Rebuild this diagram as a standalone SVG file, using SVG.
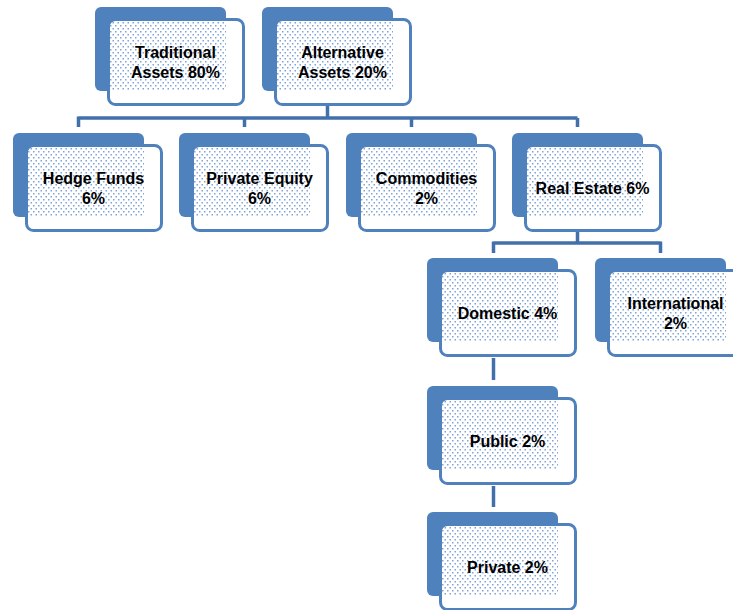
<svg xmlns="http://www.w3.org/2000/svg" width="733" height="610" viewBox="0 0 733 610">
<defs>
<pattern id="dots" patternUnits="userSpaceOnUse" width="5" height="6">
<rect x="0" y="0" width="1.5" height="1.5" fill="#82A3D6"/>
<rect x="2.5" y="3" width="1.5" height="1.5" fill="#82A3D6"/>
</pattern>
</defs>
<style>
.back{fill:#4F81BD}
.front{fill:#FFFFFF;stroke:#4F81BD;stroke-width:3}
.dot{fill:url(#dots)}
.lbl{font-family:"Liberation Sans",Arial,sans-serif;font-weight:bold;font-size:16px;fill:#000;text-anchor:middle}
.conn{fill:none;stroke:#4170AA;stroke-width:3.5}
</style>
<rect width="733" height="610" fill="#FFFFFF"/>
<g id="connectors">
<path class="conn" d="M327.5 105 V118 M78.5 118 H577.5 M78.5 116.5 V127 M244.5 118 V127 M411.5 118 V127 M577.5 118 V127"/>
<path class="conn" d="M577.5 231 V243 M493.5 243 H660.5 M493.5 241.5 V253 M660.5 241.5 V253"/>
<path class="conn" d="M493.5 358 V380"/>
<path class="conn" d="M493.5 486 V507"/>
</g>
<g id="traditional" transform="translate(95,7)">
<rect class="back" x="0" y="0" width="131" height="84" rx="6"/>
<rect class="front" x="13.5" y="12.5" width="135" height="85" rx="7"/>
<rect class="dot" x="15" y="15" width="116" height="68"/>
<text class="lbl" x="80.5" y="50.5">Traditional</text>
<text class="lbl" x="80.5" y="70.5">Assets 80%</text>
</g>
<g id="alternative" transform="translate(262,7)">
<rect class="back" x="0" y="0" width="131" height="84" rx="6"/>
<rect class="front" x="13.5" y="12.5" width="135" height="85" rx="7"/>
<rect class="dot" x="15" y="15" width="116" height="68"/>
<text class="lbl" x="80.5" y="50.5">Alternative</text>
<text class="lbl" x="80.5" y="70.5">Assets 20%</text>
</g>
<g id="hedge" transform="translate(13,133)">
<rect class="back" x="0" y="0" width="131" height="84" rx="6"/>
<rect class="front" x="13.5" y="12.5" width="135" height="85" rx="7"/>
<rect class="dot" x="15" y="15" width="116" height="68"/>
<text class="lbl" x="80.5" y="50.5">Hedge Funds</text>
<text class="lbl" x="80.5" y="70.5">6%</text>
</g>
<g id="private-equity" transform="translate(179,133)">
<rect class="back" x="0" y="0" width="131" height="84" rx="6"/>
<rect class="front" x="13.5" y="12.5" width="135" height="85" rx="7"/>
<rect class="dot" x="15" y="15" width="116" height="68"/>
<text class="lbl" x="80.5" y="50.5">Private Equity</text>
<text class="lbl" x="80.5" y="70.5">6%</text>
</g>
<g id="commodities" transform="translate(346,133)">
<rect class="back" x="0" y="0" width="131" height="84" rx="6"/>
<rect class="front" x="13.5" y="12.5" width="135" height="85" rx="7"/>
<rect class="dot" x="15" y="15" width="116" height="68"/>
<text class="lbl" x="80.5" y="50.5">Commodities</text>
<text class="lbl" x="80.5" y="70.5">2%</text>
</g>
<g id="real-estate" transform="translate(512,133)">
<rect class="back" x="0" y="0" width="131" height="84" rx="6"/>
<rect class="front" x="13.5" y="12.5" width="135" height="85" rx="7"/>
<rect class="dot" x="15" y="15" width="116" height="68"/>
<text class="lbl" x="80.5" y="60.5">Real Estate 6%</text>
</g>
<g id="domestic" transform="translate(427,258)">
<rect class="back" x="0" y="0" width="131" height="84" rx="6"/>
<rect class="front" x="13.5" y="12.5" width="135" height="85" rx="7"/>
<rect class="dot" x="15" y="15" width="116" height="68"/>
<text class="lbl" x="80.5" y="60.5">Domestic 4%</text>
</g>
<g id="international" transform="translate(595,258)">
<rect class="back" x="0" y="0" width="131" height="84" rx="6"/>
<rect class="front" x="13.5" y="12.5" width="135" height="85" rx="7"/>
<rect class="dot" x="15" y="15" width="116" height="68"/>
<text class="lbl" x="80.5" y="50.5">International</text>
<text class="lbl" x="80.5" y="70.5">2%</text>
</g>
<g id="public" transform="translate(427,386)">
<rect class="back" x="0" y="0" width="131" height="84" rx="6"/>
<rect class="front" x="13.5" y="12.5" width="135" height="85" rx="7"/>
<rect class="dot" x="15" y="15" width="116" height="68"/>
<text class="lbl" x="80.5" y="60.5">Public 2%</text>
</g>
<g id="private" transform="translate(427,512)">
<rect class="back" x="0" y="0" width="131" height="84" rx="6"/>
<rect class="front" x="13.5" y="12.5" width="135" height="85" rx="7"/>
<rect class="dot" x="15" y="15" width="116" height="68"/>
<text class="lbl" x="80.5" y="60.5">Private 2%</text>
</g>
</svg>
